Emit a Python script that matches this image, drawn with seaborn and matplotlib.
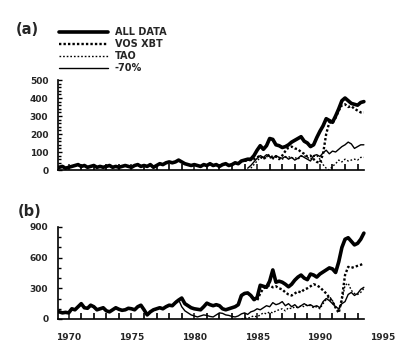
import numpy as np
import seaborn as sns
import matplotlib.pyplot as plt
from matplotlib.ticker import MultipleLocator, FixedLocator

# quarterly values, each row = one year (Y.00, Y.25, Y.50, Y.75)
# panel (a)
a_all_start = 1969.0
a_all = [15, 15, 20, 10,  15, 20, 25, 30,  20, 25, 15, 20,  25, 15, 20, 15,
         20, 25, 15, 20,  15, 20, 25, 20,  15, 25, 30, 20,  25, 20, 30, 15,
         25, 35, 30, 40,  45, 40, 45, 55,  45, 35, 30, 25,  30, 25, 20, 30,
         25, 35, 25, 30,  20, 30, 35, 25,  30, 40, 35, 50,  55, 60, 60, 80,
         110, 135, 115, 135,  175, 170, 140, 135,  125, 130, 140, 155,
         165, 175, 185, 160,  150, 130, 140, 180,  215, 245, 285, 275,
         265, 300, 340, 385,  400, 385, 370, 365,  360, 375, 380]
a_vos_start = 1984.0
a_vos = [50, 55, 55, 60,  70, 80, 60, 75,  85, 70, 75, 60,  80, 105, 125, 130,
         120, 115, 100, 90,  75, 80, 60, 45,  40, 90, 200, 265,
         260, 290, 330, 360,  365, 350, 355, 340,  330, 320, 320]
a_tao_start = 1984.5
a_tao = [10, 30,  50, 70, 60, 75,  70, 60, 75, 70,  60, 70, 75, 65,
         70, 60, 75, 80,  70, 60, 75, 80,  60, 30, 10, 0,
         20, 35, 55, 45,  60, 50, 55, 60,  55, 70, 70]
a_p70_start = 1984.25
a_p70 = [10, 25, 45,  65, 80, 70, 85,  75, 65, 80, 70,  65, 75, 60, 70,
         55, 65, 80, 70,  60, 50, 80, 85,  75, 95, 110, 90,
         105, 100, 115, 130,  140, 155, 145, 120,  130, 140, 140]

# panel (b)
b_all_start = 1969.0
b_all = [70, 70, 60, 65,  60, 100, 90, 120,  150, 110, 105, 135,  120, 90, 100, 110,
         80, 70, 90, 110,  95, 85, 90, 105,  100, 90, 120, 135,  90, 40, 70, 90,
         100, 110, 100, 120,  135, 130, 160, 185,  205, 150, 130, 110,
         100, 95, 90, 120,  155, 140, 130, 140,  130, 100, 90, 100,
         110, 120, 140, 230,  250, 255, 230, 190,  210, 330, 320, 310,
         370, 480, 360, 370,  360, 340, 315, 340,  380, 410, 430, 400,
         385, 440, 430, 410,  440, 460, 480, 500,  490, 455, 560, 700,
         780, 795, 760, 725,  740, 780, 840]
b_vos_start = 1984.5
b_vos = [230, 190,  180, 250, 300, 320,  330, 310, 320, 300,  290, 260, 240, 230,
         250, 270, 260, 290,  300, 320, 340, 330,  310, 280, 250, 210,
         170, 110, 60, 200,  430, 510, 500, 510,  520, 530, 545]
b_tao_start = 1983.75
b_tao = [0,  10, 5, 20, 30,  20, 40, 60, 50,  70, 60, 80, 90,  100, 80, 110, 100,
         120, 110, 130, 120,  140, 130, 110, 120,  100, 150, 190, 220,
         180, 120, 80, 180,  330, 350, 280, 250,  240, 260, 300]
b_p70_start = 1978.5
b_p70 = [170, 190,  120, 80, 60, 40,  30, 20, 30, 40,  35, 25, 20, 40,
         60, 55, 40, 35,  25, 20, 30, 50,  60, 45, 70, 80,  100, 90, 110, 130,
         120, 160, 140, 150,  170, 130, 150, 120,  140, 110, 130, 150,
         130, 140, 120, 130,  110, 170, 200, 180,  150, 120, 100, 150,
         170, 240, 260, 230,  250, 290, 310]

labels = ['ALL DATA', 'VOS XBT', 'TAO', '-70%']
year_labels = [1970, 1975, 1980, 1985, 1990, 1995]
year_ticks = list(range(1970, 1994))

styles = {
    'ALL DATA': dict(lw=2.6, linestyle='-'),
    'VOS XBT': dict(lw=1.7, linestyle=(0, (1.0, 0.9))),
    'TAO': dict(lw=1.0, linestyle=(0, (1.2, 1.4))),
    '-70%': dict(lw=1.0, linestyle='-'),
}


def qyears(start, vals):
    return start + 0.25 * np.arange(len(vals))


sns.set_style('ticks')
plt.rcParams['font.family'] = ['DejaVu Sans']
plt.rcParams['font.weight'] = 'bold'

fig = plt.figure(figsize=(4.0, 3.51), dpi=100)
ax_a = fig.add_axes([58 / 400, 1 - 170 / 351, 331 / 400, 90 / 351])
ax_b = fig.add_axes([58 / 400, 1 - 319 / 351, 331 / 400, 92 / 351])

panel_a = [(a_all_start, a_all), (a_vos_start, a_vos), (a_tao_start, a_tao), (a_p70_start, a_p70)]
panel_b = [(b_all_start, b_all), (b_vos_start, b_vos), (b_tao_start, b_tao), (b_p70_start, b_p70)]

# draw lower lines first, ALL DATA last on top
for ax, series in [(ax_a, panel_a), (ax_b, panel_b)]:
    for i in [3, 2, 1, 0]:
        start, vals = series[i]
        sns.lineplot(x=qyears(start, vals), y=vals, ax=ax, color='black',
                     label=labels[i], legend=False, **styles[labels[i]])

x0, x1 = 1969.15, 1995.5
for ax in [ax_a, ax_b]:
    ax.set_xlim(x0, x1)
    ax.spines['top'].set_visible(False)
    ax.spines['right'].set_visible(False)
    ax.spines['bottom'].set_bounds(x0, 1993.5)
    for s in ['left', 'bottom']:
        ax.spines[s].set_linewidth(1.2)
        ax.spines[s].set_color('black')
    # yearly tick marks pointing up, drawn as minor ticks
    ax.xaxis.set_minor_locator(FixedLocator(year_ticks))
    ax.tick_params(axis='x', which='minor', direction='in', length=4, width=1.2,
                   color='black', bottom=True)
    ax.tick_params(axis='y', which='both', direction='in', width=1, color='black',
                   labelsize=6.5, pad=7)
    ax.tick_params(axis='y', which='major', length=3)
    ax.tick_params(axis='y', which='minor', length=1.8)
    ax.set_xlabel('')
    ax.set_ylabel('')

ax_a.set_ylim(0, 500)
ax_a.yaxis.set_major_locator(MultipleLocator(100))
ax_a.yaxis.set_minor_locator(MultipleLocator(20))
ax_a.set_xticks(year_labels)
ax_a.tick_params(axis='x', which='major', direction='in', length=4, width=1.2,
                 labelbottom=False)

ax_b.set_ylim(0, 900)
ax_b.yaxis.set_major_locator(MultipleLocator(300))
ax_b.yaxis.set_minor_locator(MultipleLocator(100))
ax_b.set_xticks(year_labels)
ax_b.set_xticklabels([str(y) for y in year_labels])
ax_b.tick_params(axis='x', which='major', direction='in', length=4, width=1.2,
                 labelsize=6.5, pad=10)
# no tick mark at 1995 (beyond the axis line)
ax_b.xaxis.get_major_ticks()[-1].tick1line.set_visible(False)
ax_a.xaxis.get_major_ticks()[-1].tick1line.set_visible(False)

for lab in ax_a.get_yticklabels() + ax_b.get_yticklabels() + ax_b.get_xticklabels():
    lab.set_fontweight('bold')

# legend above panel (a)
handles = ax_a.get_lines()[:4][::-1]
fig.legend(handles, labels, loc='upper left', bbox_to_anchor=(59 / 400, 1 - 27 / 351),
           frameon=False, handlelength=5.0, handletextpad=0.75, labelspacing=0.22,
           borderpad=0, borderaxespad=0, prop=dict(size=7, weight='bold'))

fig.text(16 / 400, 1 - 29 / 351, '(a)', fontsize=10.5, fontweight='bold', va='center', ha='left')
fig.text(18 / 400, 1 - 211 / 351, '(b)', fontsize=10.5, fontweight='bold', va='center', ha='left')

fig.savefig('out.png', dpi=100)
plt.close(fig)
